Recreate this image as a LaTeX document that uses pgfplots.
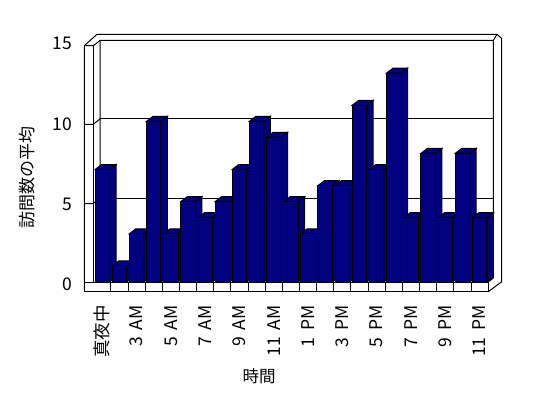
\documentclass[border=0pt]{standalone}
\usepackage{fontspec}
\setmainfont{Noto Sans CJK JP}
\usepackage{pgfplots}
\usepackage{pgfplotstable}
\pgfplotsset{compat=1.18}
\definecolor{barblue}{RGB}{0,0,128}
\newcommand{\wsp}{\hspace{0.4em}}

\pgfplotstableread{
x y
0 7
1 1
2 3
3 10
4 3
5 5
6 4
7 5
8 7
9 10
10 9
11 5
12 3
13 6
14 6
15 11
16 7
17 13
18 4
19 8
20 4
21 8
22 4
}\visits

\pgfdeclareplotmark{bar3d}{%
  \pgfmathsetmacro\barH{\rawy*16.0667}%
  \pgfmathsetmacro\barHb{5-\barH}%
  \pgfpathmoveto{\pgfqpoint{7.25pt}{0pt}}%
  \pgfpathlineto{\pgfqpoint{13.75pt}{5pt}}%
  \pgfpathlineto{\pgfpoint{13.75pt}{\barHb pt}}%
  \pgfpathlineto{\pgfpoint{7.25pt}{-\barH pt}}%
  \pgfpathclose
  \pgfusepathqfillstroke
  \pgfpathmoveto{\pgfqpoint{-7.25pt}{0pt}}%
  \pgfpathlineto{\pgfqpoint{-0.75pt}{5pt}}%
  \pgfpathlineto{\pgfqpoint{13.75pt}{5pt}}%
  \pgfpathlineto{\pgfqpoint{7.25pt}{0pt}}%
  \pgfpathclose
  \pgfusepathqfillstroke
  \pgfpathrectangle{\pgfpoint{-7.25pt}{-\barH pt}}{\pgfpoint{14.5pt}{\barH pt}}%
  \pgfusepathqfillstroke
}

\begin{document}
\begin{tikzpicture}
\path[use as bounding box] (0pt,0pt) rectangle (548pt,-398pt);
\begin{scope}[x=1pt,y=-1pt,line width=1pt]
  % back wall gridlines
  \draw (100,198)--(493.3,198);
  \draw (100,119)--(493.3,119);
  % left wall gridlines
  \draw (84.3,203.5)--(93.3,203.5)--(100,198);
  \draw (84.3,124.3)--(93.3,124.3)--(100,119);
  % inner back wall
  \draw (100,277)--(100,40.5)--(493.3,40.5)--(493.3,278)--(488.3,282);
  % outer frame
  \draw (84.3,291.7)--(84.3,45.7)--(97,34.3)--(497,34.3)--(501.7,38.5)--(501.7,281.7)--(488.3,291.7);
  \draw (93.3,282)--(93.3,45.7);
  \draw (84.3,45.7)--(93.3,45.7)--(100,40.5);
  \draw (493.3,40.5)--(497,34.3);
  % floor slab
  \draw (84.3,282)--(488.3,282)--(488.3,291.7)--(84.3,291.7)--cycle;
  \foreach \k in {1,...,22} {
    \draw ({93.7+17.15*\k},282)--({93.7+17.15*\k},291.7);
  }
\end{scope}
\begin{axis}[
  at={(93.7pt,-282pt)}, anchor=south west,
  scale only axis, width=394.4pt, height=241pt,
  xmin=-0.5, xmax=22.5, ymin=0, ymax=15,
  axis line style={draw=none},
  major tick length=0pt,
  clip=false,
  xtick={0,2,...,22},
  xticklabels={真夜中,3\wsp AM,5\wsp AM,7\wsp AM,9\wsp AM,11\wsp AM,1\wsp PM,3\wsp PM,5\wsp PM,7\wsp PM,9\wsp PM,11\wsp PM},
  tick label style={font=\fontsize{17.5}{17.5}\selectfont},
  xticklabel style={rotate=90, anchor=east, inner sep=0pt},
  xticklabel shift=23pt,
  ytick={0,5,10,15},
  yticklabels={0,5,10,15},
  yticklabel style={anchor=east, inner sep=0pt, yshift=-2.5pt},
  yticklabel shift=21.7pt,
  visualization depends on={rawy \as \rawy},
]
\addplot[only marks, mark=bar3d, mark options={draw=black, fill=barblue, line width=1pt, solid}] table[x=x,y=y] {\visits};
\end{axis}
\begin{scope}[x=1pt,y=-1pt]
  \node[rotate=90, font=\fontsize{17}{17}\selectfont] at (27,177) {訪問数の平均};
  \node[font=\fontsize{16.5}{16.5}\selectfont] at (259,376) {時間};
\end{scope}
\end{tikzpicture}
\end{document}
